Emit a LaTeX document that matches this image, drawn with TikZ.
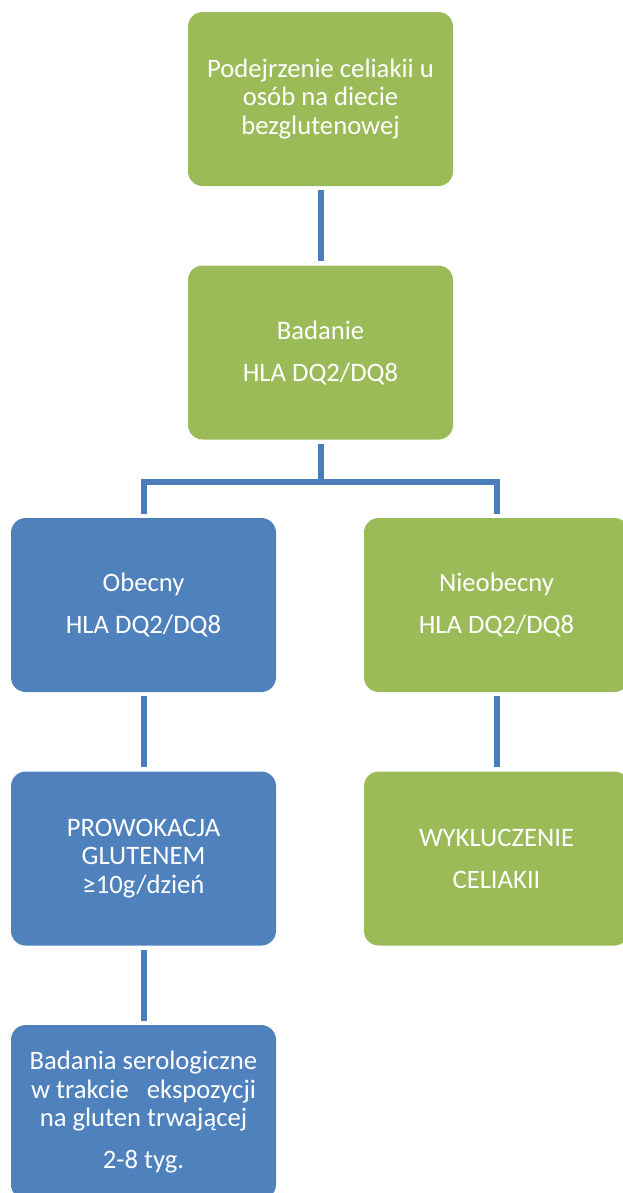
\documentclass[tikz,border=0pt]{standalone}
\usepackage{fontspec}
\setmainfont{Carlito}
\usetikzlibrary{positioning}
\definecolor{boxgreen}{HTML}{9BBB59}
\definecolor{boxblue}{HTML}{4F81BD}
\definecolor{linkblue}{HTML}{4A7EBB}

\begin{document}
\begin{tikzpicture}[x=0.75pt,y=-0.75pt,node distance=59.25pt,
	box/.style={rounded corners=11pt,minimum width=198.75pt,minimum height=130.5pt,inner sep=0pt,align=center,text=white,font=\fontsize{20}{21.5}\selectfont},
	greenbox/.style={box,fill=boxgreen},
	bluebox/.style={box,fill=boxblue},
	conn/.style={draw=linkblue,line width=4.5pt,shorten <=3pt,shorten >=3pt}]
	\useasboundingbox (0,0) rectangle (623,1193);
	\node[greenbox] (suspect) at (320.5,99) {Podejrzenie celiakii u\\osób na diecie\\bezglutenowej};
	\node[greenbox,below=of suspect] (hlatest) {Badanie\\[10pt]HLA DQ2/DQ8};
	\node[bluebox] (present) at (143.5,605) {Obecny\\[10pt]HLA DQ2/DQ8};
	\node[greenbox] (absent) at (496.5,605) {Nieobecny\\[10pt]HLA DQ2/DQ8};
	\node[bluebox,below=of present] (challenge) {PROWOKACJA\\GLUTENEM\\≥10g/dzień};
	\node[greenbox,below=of absent] (excluded) {WYKLUCZENIE\\[10pt]CELIAKII};
	\node[bluebox,below=of challenge] (serology) {Badania serologiczne\\w trakcie\ \ \ ekspozycji\\na gluten trwającej\\[10pt]2-8 tyg.};
	\coordinate (fork) at ([yshift=-31.5pt]hlatest.south);
	% connectors
	\draw[conn] (suspect) -- (hlatest);
	\draw[conn,shorten >=-2.25pt] (hlatest) -- (fork);
	\draw[conn] (present.north) |- (fork) -| (absent.north);
	\draw[conn] (present) -- (challenge);
	\draw[conn] (absent) -- (excluded);
	\draw[conn] (challenge) -- (serology);
\end{tikzpicture}
\end{document}
